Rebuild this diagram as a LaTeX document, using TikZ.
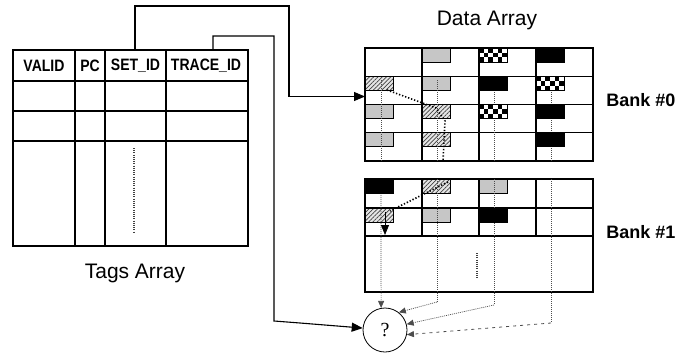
\documentclass[tikz,border=0pt]{standalone}
\usepackage{fontspec}
\setmainfont{Liberation Sans}
\newfontfamily\hdrfont{Liberation Sans}[FakeStretch=0.85]
\newfontfamily\qfont{Liberation Serif}
\usetikzlibrary{arrows.meta,patterns.meta}
\newcommand\grayc[2]{\draw[cellbox,fill=gray!45] (#1,#2) rectangle ++(28,14);}
\newcommand\blackc[2]{\draw[cellbox,fill=black] (#1,#2) rectangle ++(28,14);}
\newcommand\hatchc[2]{\draw[cellbox,preaction={fill=gray!20},pattern={Lines[angle=45,distance=3pt,line width=0.7pt]},pattern color=black!75] (#1,#2) rectangle ++(28,14);}
\newcommand\checkc[2]{%
  \fill[white] (#1,#2) rectangle ++(28,14);
  \foreach \i in {0,...,5}{\foreach \j in {0,1,2}{%
    \pgfmathtruncatemacro\kk{mod(\i+\j,2)}%
    \ifnum\kk=0 \fill[black] ({#1+\i*28/6},{#2+\j*14/3}) rectangle ++({28/6},{14/3});\fi}}
  \draw[cellbox] (#1,#2) rectangle ++(28,14);}
\begin{document}
\begin{tikzpicture}[x=1pt,y=-1pt,
  tbl/.style={line width=1.3pt},
  grid/.style={line width=1.1pt},
  cellbox/.style={draw=black,line width=0.8pt},
  conn/.style={line width=1.1pt},
  vdot/.style={draw=gray!60!black,line width=0.7pt,dash pattern=on 1pt off 1pt},
  trace/.style={line width=1.6pt,dash pattern=on 1.3pt off 1.9pt},
  hdr/.style={font=\hdrfont\bfseries\fontsize{16.5}{18}\selectfont,inner sep=0pt},
  lbl/.style={font=\fontsize{21}{24}\selectfont,inner sep=0pt},
  bank/.style={font=\bfseries\fontsize{18}{20}\selectfont,inner sep=0pt},
  bigtip/.style={-{Triangle[length=11pt,width=9pt]}},
  smalltip/.style={-{Triangle[length=7pt,width=6pt]}}]
\useasboundingbox (0,0) rectangle (692,353);

% ---- Tags array ----
\draw[tbl] (13,50) rectangle (248,246);
\foreach \yy in {81,111,141} \draw[tbl] (13,\yy) -- (248,\yy);
\foreach \xx in {75,105,166} \draw[tbl] (\xx,50) -- (\xx,246);
\node[hdr] (valid) at (44,66) {VALID};
\node[hdr] (pc) at (90,66) {PC};
\node[hdr] (setid) at (135.5,66) {SET\_ID};
\node[hdr] (traceid) at (206,66) {TRACE\_ID};
\draw[line width=1.1pt,draw=gray!50!black,dash pattern=on 1pt off 1.2pt] (134,148) -- (134,233);
\node[lbl] (tags) at (135,273) {Tags Array};

% ---- Data array labels ----
\node[lbl] (data) at (487,20) {Data Array};
\node[bank] (bank0) at (641,100) {Bank \#0};
\node[bank] (bank1) at (641,232) {Bank \#1};

% ---- Bank 0 grid ----
\draw[grid] (365,48) rectangle (593,161);
\foreach \yy in {76.25,104.5,132.75} \draw[grid] (365,\yy) -- (593,\yy);
\foreach \xx in {422,479,536} \draw[grid] (\xx,48) -- (\xx,161);
% ---- Bank 1 grid ----
\draw[grid] (365,179) rectangle (593,292);
\foreach \yy in {208,236} \draw[grid] (365,\yy) -- (593,\yy);
\foreach \xx in {422,479,536} \draw[grid] (\xx,179) -- (\xx,236);
\draw[line width=1.1pt,draw=gray!50!black,dash pattern=on 1pt off 1.2pt] (477,253) -- (477,278);

% ---- Bank 0 cells ----
\grayc{422}{48} \hatchc{365}{76.25} \grayc{422}{76.25}
\grayc{365}{104.5} \hatchc{422}{104.5}
\grayc{365}{132.75} \hatchc{422}{132.75}
% ---- Bank 1 cells ----
\hatchc{422}{179} \grayc{479}{179}
\hatchc{365}{208} \grayc{422}{208}

% ---- the ? node ----
\node[circle,draw,line width=0.8pt,minimum size=44pt,inner sep=0pt,font=\qfont\fontsize{20}{22}\selectfont] (q) at (385,330) {?};

% ---- dotted column lines ----
\foreach \xx in {381,437,494,551} \draw[vdot] (\xx,80) -- (\xx,161);
\draw[vdot,smalltip] (381,179) -- (q.100);
\draw[vdot] (437,179) -- (437,302);
\draw[vdot,smalltip] (437,302) -- (q.52);
\draw[vdot] (494,179) -- (494,305);
\draw[vdot,smalltip] (494,305) -- (q.15);
\draw[vdot] (551,179) -- (551,323);
\draw[draw=gray!60!black,line width=0.8pt,dash pattern=on 3pt off 4pt,smalltip] (551,323) -- (q.-12);

% ---- black and checker cells on top ----
\checkc{479}{48} \blackc{536}{48}
\blackc{479}{76.25} \checkc{536}{76.25}
\checkc{479}{104.5} \blackc{536}{104.5}
\blackc{536}{132.75}
\blackc{365}{179}
\blackc{479}{208}

% ---- trace lines ----
\draw[trace] (387,90) -- (436,108) -- (445,121) -- (443,161);
\draw[trace] (448,182) -- (390,211);
\draw[line width=0.8pt,-{Triangle[length=10pt,width=8pt]}] (385,212) -- (385,235);

% ---- connectors from tags ----
\coordinate (setTop) at (135,50);
\coordinate (traceTop) at (213,50);
\coordinate (bank0in) at (365,96.5);
\draw[conn,bigtip] (setTop) -- (135,6) -- (289,6) -- (289,96.5) -- (bank0in);
\draw[conn,bigtip] (traceTop) -- (213,36) -- (274,36) -- (274,321) -- (300,323) -- (q.175);
\end{tikzpicture}
\end{document}
